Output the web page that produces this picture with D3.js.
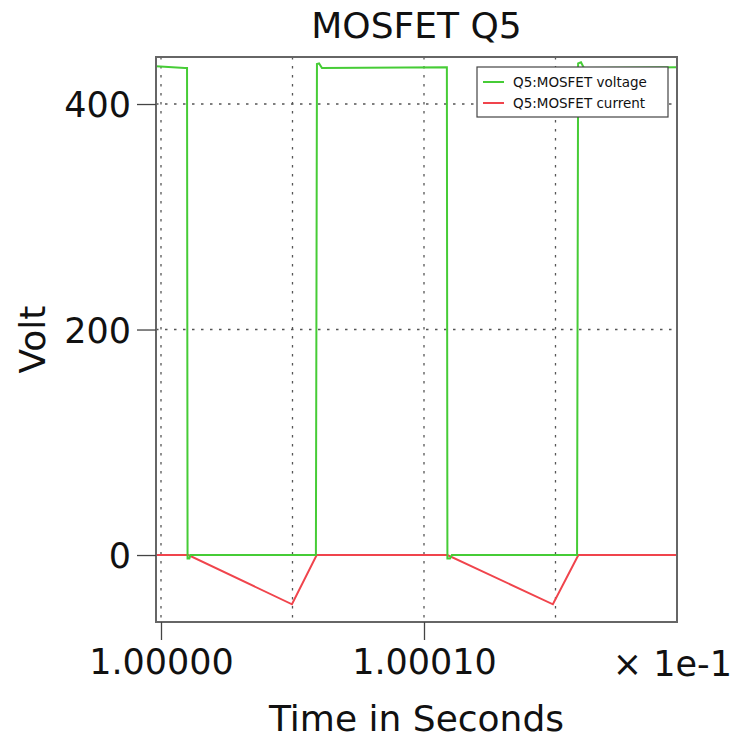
<!DOCTYPE html>
<html>
<head>
<meta charset="utf-8">
<script src="https://cdn.jsdelivr.net/npm/d3@7"></script>
<style>
  body { margin: 0; background: #fff; }
  text { font-family: "DejaVu Sans", Verdana, sans-serif; fill: #111; }
</style>
</head>
<body>
<div id="chart"></div>
<script>
// time axis is in units of 1e-1 s, as labelled on the chart
const voltTime = [0.9999981, 1.0000091, 1.0000099, 1.0000101, 1.0000108, 1.0000112,
                  1.0000589, 1.0000593, 1.0000601, 1.0000612, 1.0001087, 1.0001089,
                  1.0001099, 1.0001106, 1.0001582, 1.0001586, 1.0001597, 1.0001608, 1.0001962];
const voltValue = [433.5, 432, 432, -3, -3, 0,
                   0, 435.5, 436, 432, 432.5, -3,
                   -3, 0, 0, 436, 437, 432, 432.5];

const currTime = [0.9999981, 1.0000104, 1.0000498, 1.0000592, 1.0001089, 1.0001490, 1.0001587, 1.0001962];
const currValue = [0, 0, -43.7, 0, 0, -43.7, 0, 0];

const yTicks = [0, 200, 400];
const xTicks = [1.0, 1.0001];
const xGrid = [1.0, 1.00005, 1.0001, 1.00015];
const seriesNames = ["Q5:MOSFET voltage", "Q5:MOSFET current"];
const seriesColors = ["#46cc36", "#f0444c"];

/***** SETUP *****/
const width = 737, height = 740;
const margin = {top: 57, left: 156, right: 60, bottom: 118};
const plotW = width - margin.left - margin.right;
const plotH = height - margin.top - margin.bottom;

const svg = d3.select("#chart").append("svg")
    .attr("width", width)
    .attr("height", height);

const x = d3.scaleLinear()
    .domain([0.9999981, 1.0001962])
    .range([margin.left, margin.left + plotW]);

const y = d3.scaleLinear()
    .domain([-59.4, 441.7])
    .range([margin.top + plotH, margin.top]);

/***** GRID *****/
const grid = svg.append("g").attr("class", "grid")
    .attr("stroke", "#555")
    .attr("stroke-width", 1.3)
    .attr("stroke-dasharray", "2.5,6.5");

grid.selectAll(".vgrid")
    .data(xGrid)
    .enter()
    .append("line")
    .attr("x1", d => x(d)).attr("x2", d => x(d))
    .attr("y1", margin.top).attr("y2", margin.top + plotH);

grid.selectAll(".hgrid")
    .data(yTicks)
    .enter()
    .append("line")
    .attr("y1", d => y(d)).attr("y2", d => y(d))
    .attr("x1", margin.left).attr("x2", margin.left + plotW);

/***** LINES *****/
const line = d3.line()
    .x(d => x(d[0]))
    .y(d => y(d[1]));

const currData = currTime.map((t, i) => [t, currValue[i]]);
const voltData = voltTime.map((t, i) => [t, voltValue[i]]);

svg.append("path")
    .datum(currData)
    .attr("d", line)
    .attr("fill", "none")
    .attr("stroke", seriesColors[1])
    .attr("stroke-width", 2);

svg.append("path")
    .datum(voltData)
    .attr("d", line)
    .attr("fill", "none")
    .attr("stroke", seriesColors[0])
    .attr("stroke-width", 2);

/***** FRAME & AXES *****/
svg.append("rect")
    .attr("x", margin.left)
    .attr("y", margin.top)
    .attr("width", plotW)
    .attr("height", plotH)
    .attr("fill", "none")
    .attr("stroke", "#666")
    .attr("stroke-width", 2);

const yAxis = svg.append("g")
    .attr("transform", `translate(${margin.left},0)`)
    .call(d3.axisLeft(y).tickValues(yTicks).tickSize(19).tickPadding(6));
yAxis.select(".domain").remove();
yAxis.selectAll("line").attr("stroke", "#444").attr("stroke-width", 1.3);
yAxis.selectAll("text")
    .attr("font-size", 35)
    .attr("dy", "0.36em")
    .style("font-family", "DejaVu Sans, sans-serif")
    .attr("fill", "#111");

const xAxis = svg.append("g")
    .attr("transform", `translate(0,${margin.top + plotH})`)
    .call(d3.axisBottom(x).tickValues(xTicks).tickSize(18).tickPadding(9)
        .tickFormat(d3.format(".5f")));
xAxis.select(".domain").remove();
xAxis.selectAll("line").attr("stroke", "#444").attr("stroke-width", 1.3);
xAxis.selectAll("text")
    .attr("font-size", 35)
    .style("font-family", "DejaVu Sans, sans-serif")
    .attr("fill", "#111");

svg.append("text")
    .attr("x", 732)
    .attr("y", 676)
    .attr("text-anchor", "end")
    .attr("font-size", 35)
    .text("× 1e-1");

/***** TITLE & LABELS *****/
svg.append("text")
    .attr("x", margin.left + plotW / 2)
    .attr("y", 38)
    .attr("text-anchor", "middle")
    .attr("font-size", 36)
    .text("MOSFET Q5");

svg.append("text")
    .attr("transform", `translate(45,${margin.top + plotH / 2}) rotate(-90)`)
    .attr("text-anchor", "middle")
    .attr("font-size", 36)
    .text("Volt");

svg.append("text")
    .attr("x", margin.left + plotW / 2)
    .attr("y", 731)
    .attr("text-anchor", "middle")
    .attr("font-size", 36)
    .text("Time in Seconds");

/***** LEGEND *****/
const legend = svg.append("g")
    .attr("transform", "translate(477,67)");

legend.append("rect")
    .attr("width", 191)
    .attr("height", 50)
    .attr("fill", "#fff")
    .attr("stroke", "#444")
    .attr("stroke-width", 1.2);

const items = legend.selectAll(".item")
    .data(seriesNames)
    .enter()
    .append("g")
    .attr("transform", (d, i) => `translate(0,${15 + i * 21})`);

items.append("line")
    .attr("x1", 6).attr("x2", 27)
    .attr("stroke", (d, i) => seriesColors[i])
    .attr("stroke-width", 2);

items.append("text")
    .attr("x", 36)
    .attr("dy", "0.36em")
    .attr("font-size", 13.5)
    .text(d => d);
</script>
</body>
</html>
